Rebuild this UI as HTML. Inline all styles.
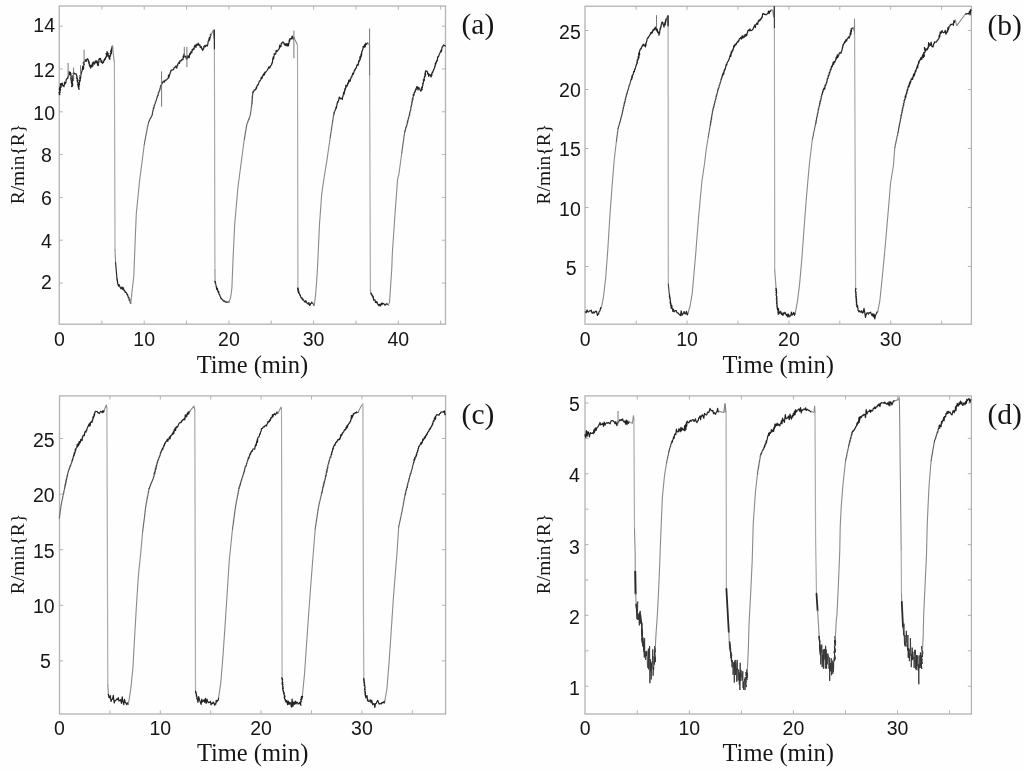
<!DOCTYPE html>
<html><head><meta charset="utf-8"><style>
html,body{margin:0;padding:0;background:#fefefe;}
svg{display:block;will-change:transform;}
.tk{font-family:"Liberation Sans",sans-serif;font-size:19.5px;fill:#161616;}
.xl{font-family:"Liberation Serif",serif;font-size:24.5px;fill:#161616;}
.yl{font-family:"Liberation Serif",serif;font-size:19.5px;fill:#161616;}
.pl{font-family:"Liberation Serif",serif;font-size:29.5px;fill:#161616;}
</style></head><body>
<svg width="1024" height="771" viewBox="0 0 1024 771">
<rect width="1024" height="771" fill="#fefefe"/>
<path d="M101.85 324.2v-3.6M101.85 6v3.6M144.20 324.2v-3.6M144.20 6v3.6M186.55 324.2v-3.6M186.55 6v3.6M228.90 324.2v-3.6M228.90 6v3.6M271.25 324.2v-3.6M271.25 6v3.6M313.60 324.2v-3.6M313.60 6v3.6M355.95 324.2v-3.6M355.95 6v3.6M398.30 324.2v-3.6M398.30 6v3.6M440.65 324.2v-3.6M440.65 6v3.6M59.25 283.00h3.6M445.5 283.00h-3.6M59.25 240.20h3.6M445.5 240.20h-3.6M59.25 197.40h3.6M445.5 197.40h-3.6M59.25 154.60h3.6M445.5 154.60h-3.6M59.25 111.80h3.6M445.5 111.80h-3.6M59.25 69.00h3.6M445.5 69.00h-3.6M59.25 26.20h3.6M445.5 26.20h-3.6" stroke="#b3b3b3" stroke-width="1" fill="none"/>
<rect x="59.25" y="6" width="386.25" height="318.20" fill="none" stroke="#b3b3b3" stroke-width="1.3"/>
<g fill="none" stroke-linejoin="round" stroke-linecap="round">
<polyline stroke="#222" stroke-width="1.2" points="59.2,94.5 59.8,94.7 59.0,92.3 60.1,92.6 59.3,88.8 60.4,90.6 59.6,87.0 60.7,89.7 59.9,88.8 61.0,87.2 60.2,84.2 61.3,87.0 60.5,84.0 61.1,83.6 61.7,85.0 62.2,83.0 62.8,86.0 63.4,85.9 64.0,86.7 64.6,82.1 65.2,83.8 65.8,82.8 66.1,80.6 66.4,79.0 66.7,79.2 66.9,78.7 67.2,78.2 67.5,77.7 67.8,78.3 68.1,76.6 68.6,76.4 69.1,71.5 69.5,74.4 70.0,72.7 70.5,72.7 71.0,74.3 70.3,72.3 71.1,75.3 70.5,74.5 71.3,76.7 70.7,78.0 71.5,78.3 70.8,78.6 71.7,81.6 71.0,79.8 71.8,82.3 71.2,82.1 72.0,84.1 71.4,82.5 72.2,85.7 71.5,86.5 72.0,86.7 72.5,85.1 71.8,85.2 72.7,85.0 72.0,82.2 72.8,85.1 72.2,81.8 73.0,80.4 72.4,79.6 73.2,80.5 72.6,77.7 73.4,78.9 72.8,76.1 73.6,77.2 72.9,75.9 73.8,74.3 73.1,73.1 73.6,72.7 74.2,73.5 74.8,73.3 75.5,74.0 76.1,73.8 76.7,75.8 77.2,77.1 76.6,77.7 77.5,80.0 76.8,77.2 77.7,79.8 77.1,80.7 78.0,80.3 77.3,81.4 78.2,83.8 77.6,84.6 78.5,86.2 77.8,84.8 78.7,86.8 78.1,86.5 78.6,88.2 79.1,89.4 78.5,85.5 79.3,86.1 78.7,84.6 79.6,84.6 79.0,82.4 79.8,82.0 79.2,81.0 80.1,81.0 79.5,80.4 80.3,80.4 79.7,77.7 80.6,78.7 80.0,75.7 80.8,77.4 80.6,75.0 80.9,75.0 81.3,73.4 81.6,72.0 81.9,71.6 82.2,70.0 82.6,67.3 82.9,69.6 83.5,69.1 82.7,66.1 83.8,67.9 83.0,67.9 84.0,65.1 83.2,62.9 84.3,64.5 83.5,62.5 84.1,61.8 84.8,61.7 85.5,59.7 86.2,61.3 86.9,59.2 87.6,58.7 87.9,59.1 88.1,59.6 88.4,61.7 88.6,60.3 88.9,63.4 89.2,62.0 89.4,65.6 89.7,64.5 89.9,66.4 90.2,65.3 90.4,67.7 90.7,68.0 91.1,66.1 91.6,65.0 92.0,66.9 92.5,62.8 92.9,66.0 93.4,61.8 93.8,63.3 94.6,64.0 95.3,60.8 96.1,62.9 96.9,61.0 97.5,62.5 96.9,60.6 97.9,65.1 97.3,64.8 98.3,65.5 98.1,65.7 98.6,65.2 98.0,63.2 98.9,62.8 98.3,62.6 99.1,61.4 98.6,59.8 99.4,59.5 99.2,58.7 99.8,59.4 100.5,58.3 101.2,62.4 101.8,60.6 102.4,63.4 103.1,62.6 103.5,62.4 104.0,59.8 104.4,60.5 104.9,58.4 105.3,59.3 105.8,56.9 106.2,57.1 106.7,56.5 106.1,53.5 107.0,54.3 106.4,54.4 107.2,52.6 107.0,51.7 107.3,52.2 107.5,53.0 107.8,56.0 108.1,53.1 108.3,56.2 108.6,55.5 108.9,56.5 109.1,58.3 109.4,59.1 110.0,58.9 109.4,57.0 110.3,56.6 109.8,55.7 110.7,55.2 110.2,53.5 111.1,53.1 110.6,51.0 111.5,53.6 111.0,50.0 111.9,51.1 111.4,48.8 112.3,48.8 111.8,46.8 112.7,48.2 112.5,46.2"/>
<polyline stroke="#8a8a8a" stroke-width="1.1" points="112.5,46.2 114.0,60.2 114.4,62.0"/>
<polyline stroke="#ababab" stroke-width="1.2" points="114.4,62.0 115.0,249.8"/>
<polyline stroke="#8a8a8a" stroke-width="1.1" points="115.0,249.8 115.6,262.7"/>
<polyline stroke="#2a2a2a" stroke-width="1.2" points="115.6,262.7 117.0,279.0"/>
<polyline stroke="#222" stroke-width="1.2" points="117.0,279.0 117.5,280.2 117.0,280.1 117.8,282.3 117.3,283.0 118.2,284.6 118.0,284.4 118.5,286.1 119.0,284.5 119.5,285.6 120.0,287.0 121.0,288.8 122.0,287.0 122.5,289.3 123.1,287.5 123.6,289.0 124.2,290.8 124.7,290.5 125.3,292.5 125.8,292.1 126.4,292.6 126.8,293.6 127.1,294.9 127.5,294.4 127.9,295.9 128.3,297.5 128.6,297.4 129.0,298.0"/>
<polyline stroke="#444" stroke-width="1.15" points="129.0,298.0 129.2,300.4 129.5,300.1 129.7,300.1 130.0,299.6 130.2,302.9 130.5,301.6 130.7,303.5"/>
<polyline stroke="#8a8a8a" stroke-width="1.1" points="130.7,303.5 132.3,289.0 133.8,276.3 134.5,258.0 135.2,240.0 136.3,213.5 139.5,181.4 141.7,164.6 144.3,144.3"/>
<polyline stroke="#666" stroke-width="1.1" points="144.3,144.3 144.5,143.6 144.5,142.7 144.8,141.7 144.8,140.6 145.1,140.5 145.1,139.4 145.4,138.8 145.4,137.8 145.7,137.1 145.7,136.0 146.0,135.7 146.0,134.5 146.3,133.8 146.3,133.2 146.6,132.5 146.6,131.5 146.8,130.8 147.1,129.9 147.0,128.8 147.4,128.2 147.4,127.0 147.8,126.8 147.7,125.4 148.1,125.2 148.1,124.0 148.4,123.9 148.5,122.4"/>
<polyline stroke="#444" stroke-width="1.15" points="148.5,122.4 148.9,121.4 149.3,121.0 149.6,120.3 150.0,119.1 150.4,118.4 150.8,117.5 151.1,117.6 151.5,116.1 151.9,115.6 152.3,115.1 152.1,113.7 152.6,114.0 152.5,112.2 153.0,111.1 152.9,110.4 153.4,109.6 153.3,107.8 153.8,108.7 153.7,108.1 154.2,107.3 154.0,105.5 154.4,105.5 154.7,104.6 154.9,104.2 155.2,103.6 155.4,102.1 155.7,101.9 156.0,100.5 156.2,100.8 156.5,99.2 156.8,98.9 157.0,96.9 157.3,97.5 157.5,95.5 157.8,95.4 158.1,95.6 158.3,92.8 158.6,93.4 158.8,91.9 159.1,91.1 159.3,91.3 159.6,91.2 159.8,88.5 160.1,89.2 160.3,87.5 160.6,85.8 160.8,85.8 161.1,85.3"/>
<polyline stroke="#222" stroke-width="1.2" points="161.1,85.3 161.5,85.0 162.0,83.5 162.4,82.9 162.8,81.9 163.3,82.1 163.7,81.1 164.4,82.1 165.1,80.0 165.8,80.3 166.5,80.0 167.2,79.0 167.9,78.5 168.2,77.9 168.5,75.1 168.8,77.9 169.1,75.7 169.4,75.9 169.8,73.9 170.1,73.7 170.4,72.1 170.7,71.9 171.0,70.2 171.3,70.1 172.0,70.2 172.7,69.8 173.4,69.7 174.2,67.6 174.9,67.7 175.6,66.1 176.3,66.7 176.8,68.1 177.2,65.2 177.7,65.4 178.2,63.2 178.6,63.0 179.1,62.1 179.6,63.5 180.0,60.5 180.5,60.8 181.3,60.8 182.0,59.3 182.8,59.7 183.0,59.6 183.2,56.1 183.4,57.8 183.7,55.2 183.9,57.2 184.1,53.8 184.3,54.3 184.7,56.2 185.1,56.6 185.5,56.9 185.9,56.2 186.3,58.9 186.7,58.9 187.2,58.7 187.6,55.9 188.1,57.6 188.6,55.8 189.2,57.6 189.7,53.7 190.3,54.4 190.8,51.8 191.4,52.7 191.8,52.8 192.2,49.4 192.5,50.0 192.9,50.1 193.3,48.6 193.7,48.4 194.1,49.2 194.4,46.1 194.8,46.8 195.2,44.9 196.0,47.3 196.8,44.1 197.6,45.0 198.3,43.1 199.1,45.5 199.9,44.9 200.3,47.6 200.7,46.7 201.1,47.0 201.4,46.7 201.8,49.0 202.2,49.3 202.6,50.4 202.9,50.0 203.3,48.4 203.6,48.9 203.9,46.4 204.3,47.0 204.6,45.7 205.4,46.5 206.1,45.0 206.9,45.7 207.2,46.0 207.5,45.2 207.8,44.5 208.1,42.0 208.4,40.9 208.7,40.8 209.0,39.1 209.3,37.6 209.6,40.1 209.9,38.0 210.2,37.6 210.5,34.2 210.8,35.6"/>
<polyline stroke="#8a8a8a" stroke-width="1.1" points="210.8,35.6 213.2,30.1 213.9,37.9 214.3,30.0"/>
<polyline stroke="#2a2a2a" stroke-width="1.2" points="214.3,30.0 214.4,49.6"/>
<polyline stroke="#ababab" stroke-width="1.2" points="214.4,49.6 214.9,270.0"/>
<polyline stroke="#8a8a8a" stroke-width="1.1" points="214.9,270.0 215.1,281.5"/>
<polyline stroke="#2a2a2a" stroke-width="1.5" points="215.1,281.5 215.4,283.0"/>
<polyline stroke="#444" stroke-width="1.15" points="215.4,283.0 215.9,284.1 215.6,284.0 216.3,286.5 216.3,286.6"/>
<polyline stroke="#222" stroke-width="1.2" points="216.3,286.6 216.6,289.3 216.9,287.8 217.2,288.8 217.4,288.4 217.7,290.8 218.0,291.2 218.3,292.4 218.7,291.4 219.0,294.2 219.3,294.4 219.7,294.9 220.2,296.5 220.6,297.0 221.1,298.9 221.6,298.6 222.0,299.1 222.5,299.6 223.5,301.1 224.5,300.9 225.4,302.0 226.4,302.2"/>
<polyline stroke="#444" stroke-width="1.15" points="226.4,302.2 227.3,302.4 228.1,301.6 229.0,302.2"/>
<polyline stroke="#8a8a8a" stroke-width="1.1" points="229.0,302.2 230.3,298.3 230.9,295.7 231.9,288.0 232.9,262.0 234.7,224.2 237.9,187.8 241.8,157.8 244.3,139.3"/>
<polyline stroke="#666" stroke-width="1.1" points="244.3,139.3 244.5,138.4 244.5,137.2 244.8,137.2 244.8,135.9 245.1,135.5 245.0,134.6 245.3,133.5 245.3,132.6 245.6,132.3 245.6,131.2 245.9,130.6 245.9,129.8 246.2,129.1 246.1,127.7 246.4,127.2 246.4,126.5 246.7,126.0 246.7,124.3 246.9,124.1 247.2,123.9 247.5,122.5 247.8,122.4 248.1,120.7 248.4,120.3 248.7,118.9 249.0,119.7 249.3,117.7 249.6,117.8 249.9,116.0 250.2,115.6 250.4,115.0 250.3,113.2 250.7,113.2 250.6,112.3 250.9,111.2 250.8,110.7 251.2,110.0 251.1,108.3 251.4,108.1 251.3,106.8 251.7,106.5 251.5,105.1 251.9,104.6 251.9,103.8"/>
<polyline stroke="#444" stroke-width="1.15" points="251.9,103.8 252.1,103.1 251.9,101.4 252.3,101.0 252.0,100.1 252.4,100.2 252.1,97.8 252.5,98.2 252.2,96.5 252.6,96.1 252.4,95.4 252.8,94.6 252.5,94.0 252.9,92.8 252.8,92.0"/>
<polyline stroke="#222" stroke-width="1.2" points="252.8,92.0 253.4,92.1 254.1,90.1 254.7,90.1 255.3,89.5 255.7,89.7 256.1,87.5 256.5,88.3 256.9,86.1 257.3,85.6 257.7,84.6 258.0,85.0 258.4,84.0 258.8,82.9 259.2,81.8 259.6,80.8 260.0,80.9 260.4,80.2 260.9,79.2 261.3,77.0 261.8,78.6 262.2,77.8 262.7,76.1 263.1,74.7 263.6,75.3 264.0,73.3 264.5,74.8 264.9,72.2 265.4,72.6 265.9,71.9 266.5,71.2 267.0,70.5 267.5,69.7 268.1,68.9 268.6,67.0 269.2,66.9 269.7,68.1 270.2,66.7 270.8,65.4 271.3,65.1 271.6,64.9 271.8,63.0 272.1,63.3 272.3,63.0 272.6,60.7 272.8,58.2 273.1,59.1 273.3,56.8 273.6,59.0 273.8,57.1 274.1,55.9 274.3,53.5 274.6,54.5 275.1,54.2 275.7,53.9 276.2,50.3 276.8,51.7 277.3,50.8 277.8,50.9 278.4,49.4 278.9,49.2 279.3,48.8 279.7,45.2 280.1,46.5 280.5,46.8 280.9,46.9 281.3,43.2 281.7,43.4 282.1,42.8 282.9,41.9 283.6,42.5 284.4,44.9 285.1,43.8 285.9,45.7 286.6,43.5 287.4,46.0 287.7,45.9 288.0,43.7 288.4,46.0 288.7,44.4 289.0,42.8 289.3,39.9 289.6,41.4 290.0,38.6 290.3,39.2 290.6,38.5 291.4,38.9 292.2,36.0 293.1,39.1 293.9,37.4"/>
<polyline stroke="#8a8a8a" stroke-width="1.1" points="293.9,37.4 297.1,43.9 297.5,45.0"/>
<polyline stroke="#ababab" stroke-width="1.2" points="297.5,45.0 297.9,288.5"/>
<polyline stroke="#2a2a2a" stroke-width="1.8" points="297.9,288.5 298.6,292.3"/>
<polyline stroke="#222" stroke-width="1.2" points="298.6,292.3 299.0,293.5 299.4,293.7 299.8,295.1 300.1,294.6 300.5,296.2 300.9,297.2 301.4,298.2 302.0,297.6 302.5,299.8 303.1,299.3 303.6,299.9 304.2,301.1 305.0,302.2 305.8,300.6 306.6,302.7 307.4,303.2 308.1,304.2 308.9,302.6 309.6,305.4 310.2,305.2 310.7,303.4 311.2,303.4 311.8,302.2"/>
<polyline stroke="#444" stroke-width="1.15" points="311.8,302.2 312.4,303.1 312.9,303.2 313.4,304.4 314.0,305.4"/>
<polyline stroke="#8a8a8a" stroke-width="1.1" points="314.0,305.4 314.5,304.0 315.6,294.5 316.7,280.9 317.6,266.0 319.5,224.2 321.7,194.2 323.8,179.3 326.8,161.2 330.2,137.6"/>
<polyline stroke="#666" stroke-width="1.1" points="330.2,137.6 330.4,136.9 330.3,135.6 330.7,135.4 330.6,133.8 330.9,133.8 330.8,132.6 331.2,132.1 331.1,130.7 331.4,130.6 331.3,128.8 331.7,129.0 331.5,127.7 331.9,127.3 331.8,126.1 332.2,125.4 332.0,124.3 332.4,124.1 332.3,122.9 332.6,122.4 332.5,120.6 332.9,120.9 332.8,119.8 333.1,119.4 333.0,117.9 333.4,117.0 333.3,116.5 333.5,115.6"/>
<polyline stroke="#444" stroke-width="1.15" points="333.5,115.6 333.8,115.0 334.0,112.4 334.3,113.6 334.5,111.2 334.8,111.1 335.1,109.9 335.3,110.7 335.6,108.4 335.8,108.5 336.1,107.2"/>
<polyline stroke="#222" stroke-width="1.2" points="336.1,107.2 336.4,108.2 336.6,106.3 336.9,105.3 337.1,103.4 337.4,102.9 337.7,101.5 337.9,102.6 338.2,100.8 338.5,100.8 338.7,99.7 339.0,98.6 339.2,97.3 339.5,97.1 340.3,98.9 341.2,98.2 342.0,98.8 342.3,99.6 342.6,97.0 342.8,96.8 343.1,95.4 343.4,94.6 343.7,92.0 344.0,94.4 344.2,91.9 344.5,92.6 344.8,88.8 345.1,90.4 345.4,88.2 345.6,88.4 345.9,85.2 346.2,87.0 346.6,86.6 346.9,85.8 347.3,85.8 347.7,83.0 348.0,84.0 348.4,82.8 348.8,80.1 349.1,80.5 349.5,81.6 349.8,79.8 350.2,81.2 350.6,78.8 350.9,78.5 351.3,76.9 351.7,77.0 352.1,75.5 352.4,74.7 352.8,73.2 353.2,74.5 353.6,73.4 354.0,71.9 354.4,70.1 354.7,70.7 355.1,69.8 355.5,68.4 355.9,68.3 356.3,67.7 356.7,66.0 357.1,64.8 357.5,65.3 357.9,64.2 358.3,65.0 358.7,60.8 359.1,62.0 359.3,61.0 359.6,60.1 359.8,59.7 360.0,56.6 360.2,59.8 360.5,57.1 360.7,57.7 360.9,54.6 361.1,56.7 361.4,53.2 361.6,55.2 361.8,51.0 362.0,51.6 362.3,50.6 362.5,50.2 362.7,49.5 362.9,49.6 363.2,46.3 363.4,47.1 364.0,47.3 364.6,44.7 365.2,47.0 365.8,43.2 366.4,44.3 367.0,44.0 367.6,42.8"/>
<polyline stroke="#8a8a8a" stroke-width="1.1" points="367.6,42.8 369.5,45.0"/>
<polyline stroke="#ababab" stroke-width="1.2" points="369.5,45.0 370.4,290.7"/>
<polyline stroke="#8a8a8a" stroke-width="1.1" points="370.4,290.7 371.0,293.4"/>
<polyline stroke="#2a2a2a" stroke-width="1.6" points="371.0,293.4 373.2,297.2"/>
<polyline stroke="#222" stroke-width="1.2" points="373.2,297.2 373.6,300.1 374.1,299.7 374.5,299.9 375.0,299.8 375.4,302.5 375.9,301.6 376.4,302.7 377.0,301.7 377.6,304.2 378.1,304.3 378.8,305.7 379.6,304.3 380.3,306.0 380.8,304.6 381.4,303.0 381.9,304.9 382.4,303.2 383.1,303.7 383.9,303.7 384.6,304.9 385.3,305.2 386.1,304.1 386.8,303.8"/>
<polyline stroke="#444" stroke-width="1.15" points="386.8,303.8 387.6,304.5 388.4,304.9"/>
<polyline stroke="#8a8a8a" stroke-width="1.1" points="388.4,304.9 389.5,302.2 390.6,286.3 391.7,270.0 392.4,252.0 395.5,207.1 397.6,179.3 398.9,174.2 401.8,152.8"/>
<polyline stroke="#666" stroke-width="1.1" points="401.8,152.8 402.0,152.2 401.9,150.8 402.2,150.4 402.2,149.1 402.4,149.1 402.4,147.7 402.7,147.0 402.6,146.0 402.9,145.5 402.8,144.6 403.1,143.5 403.0,142.5 403.3,142.2 403.3,141.7 403.6,140.8 403.5,139.5 403.8,139.1 403.7,138.3 404.0,137.3 403.9,136.1 404.2,135.9 404.2,134.7 404.5,134.2 404.4,132.8 404.7,132.8 404.7,131.4"/>
<polyline stroke="#444" stroke-width="1.15" points="404.7,131.4 405.0,131.4 405.3,129.7 405.6,129.4 405.8,127.2 406.1,127.7 406.4,126.1 406.7,125.6 407.0,125.2 406.9,124.0 407.4,123.4 407.3,121.6 407.8,122.1 407.7,120.4 408.2,120.3 408.1,118.9 408.6,118.7 408.6,117.8 409.0,116.3 408.8,116.5 409.4,115.8 409.2,114.9 409.8,115.0 409.6,112.9 410.2,111.9 410.0,110.9 410.6,110.6 410.6,110.0 411.0,109.3 410.7,108.0 411.3,106.8 411.0,106.5 411.6,105.4 411.3,104.9 411.9,104.6 411.6,102.9 412.2,103.0 411.9,101.1 412.5,101.1 412.2,98.8 412.8,99.8 412.5,99.3 413.1,99.4 412.8,97.3 413.4,97.0 413.1,94.5 413.5,94.5"/>
<polyline stroke="#222" stroke-width="1.2" points="413.5,94.5 413.9,95.5 414.3,92.3 414.7,92.7 415.1,90.6 415.4,91.2 415.8,88.9 416.2,89.5 416.6,86.8 417.0,87.7 417.4,86.7 418.0,90.0 418.7,87.3 419.4,89.0 420.0,89.2 420.6,91.2 421.3,90.6 421.9,89.4 421.3,88.3 422.2,89.7 421.7,87.1 422.6,87.4 422.1,86.7 423.0,85.1 422.5,83.8 423.4,83.7 422.9,83.5 423.8,80.9 423.2,80.0 424.2,80.6 423.6,79.7 424.5,80.0 424.0,78.8 424.9,76.5 424.4,76.6 425.3,76.1 424.8,73.8 425.7,75.3 425.2,72.0 426.1,71.4 425.5,70.9 426.1,71.1 426.6,71.0 427.2,71.2 427.7,74.0 428.3,73.4 428.8,76.4 429.4,74.3 429.9,74.9 430.5,75.1 431.0,77.0 431.3,76.0 431.5,73.8 431.8,75.7 432.1,72.8 432.4,72.0 432.6,72.5 432.9,72.2 433.2,70.6 433.4,70.8 433.7,69.4 434.0,69.3 434.3,68.4 434.5,68.1 434.8,66.1 435.1,66.6 435.4,62.9 435.6,64.5 435.9,63.3 436.2,62.9 436.5,61.3 436.8,60.4 437.1,61.1 437.4,60.1 437.6,57.0 437.9,57.0 438.2,56.3 438.5,56.9 438.8,55.6 439.1,54.8 439.5,53.6 439.8,53.3 440.2,52.4 440.5,51.7 440.9,50.4 441.2,51.7 441.5,51.2 441.9,48.4 442.2,46.9 442.6,47.0 442.9,46.5 443.3,45.2 443.6,44.9 444.5,45.6 445.3,46.0"/>
<line stroke="#777" stroke-width="1" x1="84.1" y1="50.1" x2="84.1" y2="64"/>
<line stroke="#777" stroke-width="1" x1="68.1" y1="63.3" x2="68.1" y2="77"/>
<line stroke="#777" stroke-width="1" x1="73.6" y1="68" x2="73.6" y2="80"/>
<line stroke="#777" stroke-width="1" x1="80.6" y1="65.7" x2="80.6" y2="76"/>
<line stroke="#777" stroke-width="1" x1="161.6" y1="71.8" x2="161.6" y2="106.4"/>
<line stroke="#777" stroke-width="1" x1="186.9" y1="47.3" x2="186.9" y2="66.7"/>
<line stroke="#777" stroke-width="1" x1="184.3" y1="47.3" x2="184.3" y2="56"/>
<line stroke="#777" stroke-width="1" x1="293.9" y1="31" x2="293.9" y2="57.8"/>
<line stroke="#777" stroke-width="1" x1="369.6" y1="28.9" x2="369.6" y2="74.9"/>
</g>
<text class="tk" x="59.50" y="345.8" text-anchor="middle">0</text>
<text class="tk" x="144.20" y="345.8" text-anchor="middle">10</text>
<text class="tk" x="228.90" y="345.8" text-anchor="middle">20</text>
<text class="tk" x="313.60" y="345.8" text-anchor="middle">30</text>
<text class="tk" x="398.30" y="345.8" text-anchor="middle">40</text>
<text class="tk" x="33.30" y="31.5">14</text>
<text class="tk" x="33.30" y="76.6">12</text>
<text class="tk" x="33.30" y="120.3">10</text>
<text class="tk" x="40.90" y="162.4">8</text>
<text class="tk" x="40.90" y="204.6">6</text>
<text class="tk" x="40.90" y="248.2">4</text>
<text class="tk" x="40.90" y="289.1">2</text>
<text class="xl" x="252.4" y="372.6" text-anchor="middle">Time (min)</text>
<text class="yl" transform="translate(24.0,164.1) rotate(-90)" text-anchor="middle">R/min{R}</text>
<text class="pl" x="461.5" y="34.2">(a)</text>
<path d="M636.20 324.2v-3.6M636.20 6.25v3.6M687.10 324.2v-3.6M687.10 6.25v3.6M738.00 324.2v-3.6M738.00 6.25v3.6M788.90 324.2v-3.6M788.90 6.25v3.6M839.80 324.2v-3.6M839.80 6.25v3.6M890.70 324.2v-3.6M890.70 6.25v3.6M941.60 324.2v-3.6M941.60 6.25v3.6M585.0 266.50h3.6M971.4 266.50h-3.6M585.0 207.50h3.6M971.4 207.50h-3.6M585.0 148.50h3.6M971.4 148.50h-3.6M585.0 89.50h3.6M971.4 89.50h-3.6M585.0 30.50h3.6M971.4 30.50h-3.6" stroke="#b3b3b3" stroke-width="1" fill="none"/>
<rect x="585.0" y="6.25" width="386.40" height="317.95" fill="none" stroke="#b3b3b3" stroke-width="1.3"/>
<g fill="none" stroke-linejoin="round" stroke-linecap="round">
<polyline stroke="#222" stroke-width="1.2" points="585.3,311.9 586.2,312.7 587.1,309.9 588.0,312.0 588.8,311.8 589.6,310.9 590.4,310.8 591.2,310.1 592.0,313.0 592.8,313.1 593.5,311.8 594.2,312.9 595.0,312.0 595.8,311.1 596.6,311.6 597.4,315.4 598.2,314.0 598.6,314.2 599.0,311.8 599.4,311.4 599.8,310.8 600.2,310.1 600.6,307.7 601.0,308.3 601.4,307.6"/>
<polyline stroke="#8a8a8a" stroke-width="1.1" points="601.4,307.6 603.5,296.9 605.7,277.6 607.8,249.8 609.9,215.6 612.1,185.7 614.2,160.0 616.4,141.2"/>
<polyline stroke="#666" stroke-width="1.1" points="616.4,141.2 616.6,141.0 616.5,139.5 616.8,139.3 616.7,137.6 617.1,137.7 616.9,136.0 617.3,135.7 617.1,135.3 617.5,134.4 617.3,132.8 617.7,132.5 617.6,131.4 617.9,131.3 617.8,129.6 618.1,128.8 618.1,128.3"/>
<polyline stroke="#444" stroke-width="1.15" points="618.1,128.3 618.3,127.6 618.6,126.5 618.8,126.2 619.0,125.3 619.2,124.7 619.5,123.6 619.7,122.5 619.9,122.0 620.1,122.1 620.4,120.3 620.6,119.8 620.8,118.5 621.0,118.8 621.2,116.5 621.5,116.5 621.7,115.5 622.0,115.1 621.9,113.9 622.4,113.2 622.3,112.2 622.7,111.6 622.6,110.5 623.1,110.1 623.0,108.4 623.5,108.5 623.3,107.6 623.8,106.6 623.7,105.6 624.2,105.6 624.1,103.6 624.5,103.8 624.4,102.1 624.9,102.6 624.8,101.7 625.3,101.3 625.1,99.2 625.6,99.2 625.5,97.7 626.0,97.4 626.0,96.3 626.2,96.6 626.5,93.8 626.7,94.8 627.0,92.8 627.2,93.4 627.4,91.4 627.7,90.8 627.9,89.9 628.2,89.9 628.4,88.2 628.6,88.3 628.9,86.3 629.1,85.4 629.4,85.5 629.6,85.2 629.9,83.5 630.1,83.4 630.3,82.4 630.6,81.5 630.8,80.0 631.1,80.1 631.3,79.1"/>
<polyline stroke="#222" stroke-width="1.2" points="631.3,79.1 631.6,79.6 631.9,76.1 632.2,78.0 632.4,75.1 632.7,74.9 633.0,74.8 633.3,74.0 633.6,71.5 633.9,72.2 634.1,71.4 634.4,71.7 634.7,69.0 635.0,69.6 635.3,68.2 635.6,67.4 635.8,66.3 636.1,66.2 636.4,64.2 636.7,64.2 637.2,63.5 636.8,62.2 637.5,62.4 637.1,60.1 637.9,60.4 637.5,59.8 638.3,59.3 637.9,58.1 638.6,58.5 638.2,56.3 639.0,57.7 638.6,53.6 639.4,55.1 639.0,52.4 639.8,54.3 639.3,52.4 640.1,49.8 640.0,50.0 640.4,49.0 640.8,48.5 641.2,48.9 641.6,47.1 642.0,46.8 642.4,45.4 642.8,45.8 643.2,44.1 643.7,45.2 644.2,45.7 644.7,44.9 645.2,46.7 645.4,46.9 645.7,43.6 645.9,45.6 646.1,42.7 646.4,42.4 646.6,41.5 646.9,40.7 647.1,38.8 647.3,38.5 647.6,37.9 647.8,37.6 648.3,37.9 648.8,36.5 649.3,35.9 649.8,35.0 650.2,34.6 650.7,32.6 651.2,33.6 651.7,31.8 652.3,32.8 652.9,29.8 653.5,30.5 654.1,28.8 654.7,29.7 655.3,27.0 655.9,27.9 656.3,30.2 656.6,28.4 657.0,31.1 657.3,29.5 657.7,32.4 658.1,32.0 658.4,33.2 658.8,33.7 659.0,35.3 659.3,31.9 659.5,33.6 659.8,30.8 660.0,29.8 660.2,28.1 660.5,29.2 660.7,26.9 661.0,27.3 661.2,25.0 661.4,24.1 661.7,23.5 661.9,22.2 662.2,22.5 662.4,22.0 662.7,22.8 662.9,22.5 663.2,25.0 663.5,25.1 663.7,25.6 664.0,27.2 664.2,25.5 664.5,24.1 664.7,23.6 664.9,22.6 665.2,25.0 665.4,20.9 665.7,22.6 665.9,19.0 666.1,20.6 666.4,18.2 666.6,18.2"/>
<polyline stroke="#8a8a8a" stroke-width="1.1" points="666.6,18.2 667.6,15.6 668.0,16.0"/>
<polyline stroke="#2a2a2a" stroke-width="1.6" points="668.0,16.0 668.1,26.0"/>
<polyline stroke="#ababab" stroke-width="1.2" points="668.1,26.0 668.3,284.1"/>
<polyline stroke="#444" stroke-width="1.15" points="668.3,284.1 668.5,285.2 668.3,285.7 668.7,287.5 668.5,287.2 668.9,288.5 668.7,288.4 669.0,290.3 668.8,290.3 669.2,292.1 669.0,292.1 669.4,294.1 669.2,293.0 669.4,294.8"/>
<polyline stroke="#222" stroke-width="1.2" points="669.4,294.8 669.8,295.9 669.3,296.6 670.1,297.5 669.5,296.9 670.3,299.2 669.8,298.1 670.5,301.2 670.0,302.8 670.8,303.7 670.2,301.6 671.0,303.7 670.5,303.8 670.9,305.5 671.3,308.4 671.7,305.2 672.1,307.9 672.5,309.0 672.9,311.5 673.3,309.0 673.7,310.5 674.1,311.9 674.8,311.0 675.5,310.5 676.2,310.5 677.0,312.7 677.7,312.9 678.4,313.0 679.1,314.5 679.8,314.7 680.5,315.5 681.2,310.9 682.0,315.3 682.7,314.0 683.4,313.4 684.1,311.5 684.8,313.6 685.6,313.9 686.4,311.4 687.2,314.9 688.0,313.0"/>
<polyline stroke="#8a8a8a" stroke-width="1.1" points="688.0,313.0 690.2,305.5 692.3,292.6 695.5,256.3 698.7,215.6 701.9,181.4 704.6,163.0 706.2,149.7 708.3,136.9"/>
<polyline stroke="#666" stroke-width="1.1" points="708.3,136.9 708.5,135.7 708.5,134.8 708.8,134.6 708.7,133.5 709.1,133.2 709.0,132.0 709.3,131.5 709.3,130.7 709.6,129.4 709.5,128.8 709.9,128.2 709.8,127.2 710.1,126.8 710.1,125.4 710.3,125.0"/>
<polyline stroke="#444" stroke-width="1.15" points="710.3,125.0 710.6,124.2 710.4,123.4 710.8,122.9 710.7,121.3 711.1,121.9 711.0,120.7 711.4,119.0 711.2,118.4 711.7,118.8 711.5,116.9 711.9,116.4 711.8,115.0 712.2,114.5 712.1,113.3 712.5,112.9 712.3,112.0 712.6,111.2 713.0,110.5 712.8,109.2 713.4,108.6 713.2,107.8 713.7,107.2 713.6,106.2 714.1,106.5 714.0,104.9 714.5,104.7 714.4,103.3 714.9,102.9 714.8,101.5 715.3,101.2 715.2,100.4 715.7,99.4 715.6,99.0 716.1,98.3 716.0,96.6 716.5,96.5 716.3,95.1 716.9,95.2 716.9,94.1 717.1,93.3 717.4,92.8 717.6,91.7 717.8,89.4 718.0,90.1 718.3,88.0 718.5,88.9 718.7,88.0 718.9,87.7 719.2,85.2 719.4,85.4 719.6,85.2 719.8,84.4 720.1,82.7 720.3,83.2 720.5,82.4 720.7,81.7 721.0,79.6 721.2,79.1"/>
<polyline stroke="#222" stroke-width="1.2" points="721.2,79.1 721.5,79.0 721.8,77.5 722.1,76.8 722.4,74.8 722.7,75.7 722.9,73.3 723.2,74.1 723.5,72.5 723.8,74.1 724.1,70.3 724.4,70.9 724.7,69.2 725.0,69.7 725.3,68.5 725.6,67.6 725.9,65.7 726.1,65.2 726.4,64.0 726.7,65.1 727.0,63.1 727.3,62.5 727.6,62.0 728.2,61.2 728.7,59.9 729.0,59.7 729.3,58.3 729.6,57.7 729.9,56.2 730.3,55.3 730.6,54.0 730.9,56.3 731.2,51.7 731.5,53.4 731.8,52.0 732.1,51.8 732.4,49.8 732.8,50.6 733.1,48.9 733.4,49.0 733.7,45.9 734.0,47.1 734.5,46.8 734.9,44.4 735.4,45.0 735.8,43.9 736.2,44.6 736.7,43.0 737.1,42.2 737.6,41.6 738.0,42.2 738.5,40.3 738.9,40.9 739.4,38.5 740.1,38.7 740.8,37.3 741.5,39.1 742.2,35.7 743.0,38.1 743.7,36.0 744.4,37.1 745.1,34.4 745.8,36.3 746.1,35.3 746.4,34.1 746.8,35.3 747.1,33.4 747.4,32.9 747.8,30.8 748.1,30.6 748.4,30.0 749.2,30.8 749.9,28.9 750.7,30.7 751.5,30.4 752.2,29.9 753.0,29.2 753.5,27.8 753.9,26.5 754.4,26.5 754.8,24.9 755.3,27.7 755.7,24.9 756.2,24.6 756.7,23.2 757.2,23.3 757.7,24.4 758.2,21.1 758.6,21.4 759.1,19.9 759.6,21.0 760.1,19.5 760.5,19.9 760.9,18.5 761.3,18.9 761.7,17.0 762.1,17.6 762.5,15.0 762.9,13.5 763.3,13.5 764.2,14.4 765.0,14.1 765.9,14.9 766.5,14.5 767.2,13.9 767.9,13.3 768.5,11.0 769.1,13.7 769.8,11.2 770.5,11.4 771.1,10.0"/>
<polyline stroke="#8a8a8a" stroke-width="1.1" points="771.1,10.0 772.5,10.0 773.7,16.9 774.3,6.5"/>
<polyline stroke="#2a2a2a" stroke-width="1.1" points="774.3,6.5 774.4,28.5"/>
<polyline stroke="#ababab" stroke-width="1.2" points="774.4,28.5 774.7,270.0"/>
<polyline stroke="#8a8a8a" stroke-width="1.1" points="774.7,270.0 776.1,288.3"/>
<polyline stroke="#222" stroke-width="1.2" points="776.1,288.3 776.5,290.4 775.9,290.2 776.6,291.5 775.9,288.9 776.6,292.3 776.0,292.2 776.7,293.7 776.1,294.3 776.8,297.1 776.2,295.4 776.9,296.8 776.3,299.1 777.0,298.9 776.4,298.0 777.1,301.1 776.4,301.0 777.1,301.9 776.5,302.9 777.2,303.7 776.6,303.1 777.3,305.9 776.7,306.1 777.4,306.8 777.1,307.6 777.5,309.6 777.8,308.1 778.2,314.2 778.6,308.7 778.9,313.8 779.3,311.9 780.0,312.9 780.7,311.4 781.4,314.4 782.1,313.1 782.9,315.5 783.6,312.9 784.3,313.6 785.0,312.2 785.7,314.0 786.4,315.6 787.1,314.1 787.8,317.0 788.5,314.2 789.3,316.8 790.0,315.8 790.7,315.9 791.4,312.2 792.1,315.1 792.9,314.2 793.7,312.3 794.5,315.4 795.3,313.0"/>
<polyline stroke="#8a8a8a" stroke-width="1.1" points="795.3,313.0 797.5,301.2 799.6,284.1 801.7,260.5 803.9,230.6 806.0,202.8 808.2,177.1 809.5,163.0 812.4,139.0"/>
<polyline stroke="#666" stroke-width="1.1" points="812.4,139.0 812.7,138.2 812.6,137.6 813.0,137.0 813.0,136.2 813.4,135.6 813.3,134.0 813.7,133.6 813.6,132.5 814.0,132.1 814.0,130.7 814.4,130.5 814.3,129.8 814.7,128.4 814.6,127.8 815.0,127.1 815.0,126.2 815.4,126.0 815.3,124.6 815.6,124.0"/>
<polyline stroke="#444" stroke-width="1.15" points="815.6,124.0 815.9,123.7 815.8,121.5 816.2,122.2 816.1,120.3 816.5,120.4 816.4,119.0 816.9,117.6 816.7,117.0 817.2,117.0 817.0,116.2 817.5,115.5 817.3,114.1 817.8,113.2 817.6,113.0 818.1,112.8 818.0,110.8 818.4,110.4 818.3,108.6 818.7,109.2 818.6,108.6 818.9,107.0 819.3,106.9 819.1,105.7 819.7,105.2 819.5,103.0 820.1,103.9 819.9,101.2 820.5,101.6 820.3,100.4 820.9,100.5 820.7,98.8 821.3,98.6 821.1,96.6 821.7,96.2 821.5,95.4 822.1,94.9 822.1,94.1"/>
<polyline stroke="#222" stroke-width="1.2" points="822.1,94.1 822.4,92.9 822.7,91.3 823.0,91.9 823.3,89.3 823.6,89.8 823.9,88.0 824.2,89.3 824.5,87.8 824.8,89.0 825.1,85.0 825.4,85.7 825.7,85.1 826.0,84.5 826.3,83.4 826.5,82.8 826.8,82.5 827.0,81.2 827.3,78.7 827.5,78.8 827.8,78.2 828.0,78.4 828.3,75.3 828.5,75.8 828.8,75.1 829.0,75.3 829.3,72.5 829.5,72.7 829.8,72.9 830.1,71.1 830.4,69.5 830.7,68.9 831.0,69.6 831.3,67.1 831.6,66.2 831.9,65.8 832.2,66.8 832.5,65.7 832.8,64.2 833.2,62.2 833.7,64.4 834.1,61.7 834.5,61.6 834.9,62.2 835.4,60.2 835.8,59.9 836.2,57.0 836.6,58.8 837.1,55.9 837.5,54.8 837.9,57.4 838.3,56.1 838.8,55.2 839.2,53.5 839.8,52.6 840.3,52.8 840.9,53.3 841.4,51.4 842.0,50.0 842.2,49.7 842.5,47.1 842.7,48.0 842.9,44.8 843.2,45.4 843.4,44.9 843.7,44.3 843.9,43.2 844.1,43.5 844.4,43.2 844.6,41.5 845.2,42.3 845.9,39.7 846.6,41.0 847.2,38.9 847.9,38.2 848.5,36.8 849.1,38.1 849.8,36.3 850.3,35.1 849.9,34.0 850.7,33.5 850.3,32.8 851.1,34.1 850.7,30.6 851.5,31.5 851.1,28.9 851.9,28.9 851.8,28.5 853.1,27.9"/>
<polyline stroke="#8a8a8a" stroke-width="1.1" points="853.1,27.9 854.4,31.8 854.5,19.1 854.6,35.0"/>
<polyline stroke="#ababab" stroke-width="1.2" points="854.6,35.0 855.6,288.3"/>
<polyline stroke="#222" stroke-width="1.2" points="855.6,288.3 856.0,288.7 855.4,290.6 856.1,293.3 855.5,291.5 856.2,292.4 855.6,293.3 856.3,294.4 855.7,295.0 856.4,296.5 855.8,296.3 856.5,298.5 855.9,297.2 856.6,299.3 856.0,297.9 856.7,300.9 856.1,299.8 856.8,302.8 856.2,301.9 856.9,304.7 856.3,304.7 857.0,305.1 856.7,306.5 857.2,307.0 857.6,305.9 858.1,310.5 858.6,310.7 859.0,312.0 859.5,310.8 860.3,311.5 861.0,312.4 861.8,310.7 862.5,313.1 863.3,312.4 864.0,308.3 864.8,313.0 865.5,317.3 866.2,314.4 867.0,312.9 867.7,312.8 868.4,314.1 869.1,312.9 869.9,312.7 870.6,312.2 871.3,314.0 872.0,315.6 872.7,313.8 873.4,316.9 874.1,314.0 874.8,318.8 875.5,315.1 876.0,314.3 876.6,313.2 877.2,311.7 877.7,311.9"/>
<polyline stroke="#8a8a8a" stroke-width="1.1" points="877.7,311.9 879.8,301.2 882.0,279.8 884.1,258.4 886.2,234.9 888.4,209.2 890.5,183.5 893.5,165.0 894.8,147.6"/>
<polyline stroke="#666" stroke-width="1.1" points="894.8,147.6 895.1,146.6 895.0,146.2 895.4,145.1 895.4,144.4 895.8,143.8 895.7,142.3 896.1,142.2 896.0,140.9 896.4,140.5 896.4,139.7 896.8,139.3 896.7,137.8 897.1,137.3 897.0,136.4 897.4,135.9 897.4,135.1 897.8,135.2 897.7,133.4 898.0,132.6"/>
<polyline stroke="#444" stroke-width="1.15" points="898.0,132.6 898.3,132.0 898.2,130.7 898.6,130.1 898.5,128.8 898.9,128.4 898.8,127.3 899.2,127.0 899.1,126.1 899.5,125.4 899.4,124.1 899.8,123.4 899.7,123.2 900.1,122.5 900.0,121.6 900.4,120.9 900.3,119.9 900.7,118.9 900.6,118.0 901.0,118.4 900.9,115.6 901.2,115.5 901.6,115.6 901.3,114.4 901.9,113.7 901.7,112.4 902.2,112.5 902.0,110.1 902.6,110.5 902.4,108.4 902.9,108.4 902.7,107.0 903.2,107.1 903.0,105.8 903.6,105.8 903.4,103.4 903.9,105.0 903.7,103.1 904.3,102.8 904.0,100.8 904.4,100.5"/>
<polyline stroke="#222" stroke-width="1.2" points="904.4,100.5 904.6,100.1 904.9,98.9 905.1,98.9 905.3,95.8 905.5,97.5 905.8,97.4 906.0,94.2 906.2,94.5 906.4,94.1 906.7,92.1 906.9,93.3 907.1,89.8 907.3,90.9 907.6,90.1 907.8,89.1 908.0,87.2 908.2,87.7 908.5,85.6 908.7,85.6 909.1,86.6 909.4,83.0 909.8,84.6 910.1,81.3 910.5,83.0 910.9,80.7 911.2,79.1 911.6,79.4 911.9,78.8 912.3,77.6 912.6,79.4 913.0,77.0 913.3,75.8 913.6,74.0 913.9,76.5 914.2,73.5 914.6,75.1 914.9,72.2 915.2,71.5 915.5,70.4 915.8,71.8 916.1,69.7 916.4,69.3 916.7,67.5 917.1,67.7 917.4,65.4 917.7,67.9 918.0,64.4 918.3,64.2 918.5,62.9 918.8,61.3 919.0,63.1 919.3,60.8 919.5,60.0 920.3,60.2 921.0,57.3 921.8,59.5 922.5,54.9 923.3,57.6 923.9,55.7 923.1,56.1 924.2,55.3 923.4,53.8 924.5,56.2 923.7,52.5 924.8,52.6 924.0,53.0 925.1,51.9 924.3,47.5 924.9,48.2 925.7,50.9 926.4,48.9 927.2,49.8 927.5,48.7 927.9,47.4 928.2,48.2 928.6,42.7 928.9,46.7 929.3,43.7 929.6,44.4 930.4,45.3 931.2,42.0 931.9,46.6 932.7,46.7 933.1,46.9 933.5,44.3 933.9,43.6 934.2,43.5 934.6,41.9 935.0,42.0 935.8,42.1 936.5,41.9 937.3,40.2 938.1,39.7 938.4,39.1 938.7,38.8 939.0,37.8 939.3,35.1 939.6,37.2 939.9,35.7 940.2,31.9 940.5,33.5 941.3,33.0 942.0,30.5 942.8,32.2 943.6,32.7 944.4,32.4 945.2,30.4 945.9,34.2 946.7,32.7 947.0,31.6 947.3,30.3 947.6,32.0 947.9,27.5 948.1,30.0 948.4,29.6 948.7,28.8 949.0,26.5 949.8,26.0 950.6,24.4 951.3,24.7 952.1,24.0 952.9,24.1 953.4,25.4 953.9,20.6 954.3,22.4 954.8,21.6 955.3,20.2"/>
<polyline stroke="#8a8a8a" stroke-width="1.1" points="955.3,20.2 956.8,25.7 965.4,14.0 965.6,14.0"/>
<polyline stroke="#222" stroke-width="1.2" points="965.6,14.0 966.3,14.2 967.0,13.5 967.8,13.6 968.5,14.0 969.0,13.0 969.6,11.1 970.1,14.9 970.7,9.7 971.2,10.1"/>
<line stroke="#777" stroke-width="1" x1="656.5" y1="15.6" x2="656.5" y2="27.9"/>
</g>
<text class="tk" x="585.30" y="345.8" text-anchor="middle">0</text>
<text class="tk" x="687.10" y="345.8" text-anchor="middle">10</text>
<text class="tk" x="788.90" y="345.8" text-anchor="middle">20</text>
<text class="tk" x="890.70" y="345.8" text-anchor="middle">30</text>
<text class="tk" x="559.10" y="38.5">25</text>
<text class="tk" x="559.10" y="97.3">20</text>
<text class="tk" x="559.10" y="156.3">15</text>
<text class="tk" x="559.10" y="215.5">10</text>
<text class="tk" x="565.75" y="274.6">5</text>
<text class="xl" x="778.2" y="372.6" text-anchor="middle">Time (min)</text>
<text class="yl" transform="translate(549.7,164.2) rotate(-90)" text-anchor="middle">R/min{R}</text>
<text class="pl" x="987.4" y="34.5">(b)</text>
<path d="M109.90 714v-3.6M109.90 395.9v3.6M160.30 714v-3.6M160.30 395.9v3.6M210.70 714v-3.6M210.70 395.9v3.6M261.10 714v-3.6M261.10 395.9v3.6M311.50 714v-3.6M311.50 395.9v3.6M361.90 714v-3.6M361.90 395.9v3.6M412.30 714v-3.6M412.30 395.9v3.6M59.5 660.90h3.6M445.6 660.90h-3.6M59.5 605.30h3.6M445.6 605.30h-3.6M59.5 549.70h3.6M445.6 549.70h-3.6M59.5 494.10h3.6M445.6 494.10h-3.6M59.5 438.50h3.6M445.6 438.50h-3.6" stroke="#b3b3b3" stroke-width="1" fill="none"/>
<rect x="59.5" y="395.9" width="386.10" height="318.10" fill="none" stroke="#b3b3b3" stroke-width="1.3"/>
<g fill="none" stroke-linejoin="round" stroke-linecap="round">
<polyline stroke="#666" stroke-width="1.1" points="59.3,518.3 59.5,517.5 59.4,516.4 59.7,515.9 59.7,515.0 60.0,514.4 59.9,513.6 60.2,512.7 60.1,511.9 60.4,511.1 60.4,510.0 60.7,509.0 60.6,508.2 60.9,507.7 60.8,506.5 61.1,505.5 61.1,505.1 61.4,504.3 61.4,503.4 61.7,502.7 61.6,501.5 62.0,501.2 62.0,500.2 62.4,499.3 62.3,498.2 62.7,498.2 62.6,496.9 63.0,496.4 63.0,495.1 63.4,494.7 63.3,493.7 63.7,493.7 63.6,491.8 64.0,492.2 64.0,490.8 64.4,490.0 64.3,489.2 64.6,488.4"/>
<polyline stroke="#444" stroke-width="1.15" points="64.6,488.4 64.9,487.3 64.8,485.8 65.3,485.8 65.1,484.8 65.6,484.6 65.4,483.2 65.9,483.2 65.8,480.9 66.3,481.8 66.1,479.6 66.6,479.7 66.5,478.5 67.0,477.9 66.8,476.5 67.3,476.4 67.1,475.5 67.6,475.5 67.5,474.1 67.8,473.4 68.1,472.4 68.3,471.0 68.6,470.9 68.9,470.1 69.1,468.7 69.4,468.9 69.7,467.9 69.9,466.2 70.2,466.7 70.5,465.6 70.8,465.1 71.0,464.0 71.3,463.4 71.6,462.5 71.8,462.4 72.1,460.6"/>
<polyline stroke="#222" stroke-width="1.2" points="72.1,460.6 72.4,460.2 72.6,459.5 72.9,458.8 73.2,457.0 73.4,456.4 73.7,455.2 74.0,456.0 74.2,452.9 74.5,454.3 74.8,452.4 75.1,452.4 75.3,449.1 75.6,450.6 75.9,449.4 76.1,448.5 76.4,447.8 76.8,447.7 77.3,444.1 77.7,446.7 78.2,443.9 78.6,445.4 79.1,441.6 79.5,443.8 79.9,441.4 80.4,442.5 80.8,439.4 81.3,440.0 81.7,439.2 82.1,440.6 82.5,436.5 82.9,436.9 83.2,435.4 83.6,435.1 84.0,435.0 84.4,435.6 84.8,432.1 85.2,431.5 85.6,431.9 85.9,432.1 86.3,430.1 86.7,430.6 87.1,428.5 87.5,427.6 88.0,426.4 88.4,425.8 88.9,424.1 89.3,426.2 89.8,423.2 90.2,425.7 90.6,422.3 91.1,422.1 91.5,421.4 92.0,422.5 92.4,419.9 92.7,420.1 93.0,416.8 93.3,418.4 93.6,417.4 93.9,416.2 94.1,414.1 94.4,415.9 94.7,413.3 95.0,412.6 95.3,411.3 95.6,411.4 96.3,411.5 97.0,411.4 97.8,412.6 98.5,412.6 99.2,413.6 99.9,412.5 100.6,411.3 101.3,411.5 102.1,412.8 102.8,410.8 103.5,412.2 104.2,410.3"/>
<polyline stroke="#8a8a8a" stroke-width="1.1" points="104.2,410.3 106.3,405.0 106.9,408.0"/>
<polyline stroke="#ababab" stroke-width="1.2" points="106.9,408.0 107.8,685.0"/>
<polyline stroke="#8a8a8a" stroke-width="1.1" points="107.8,685.0 108.4,694.4"/>
<polyline stroke="#2a2a2a" stroke-width="1.4" points="108.4,694.4 109.0,697.0"/>
<polyline stroke="#222" stroke-width="1.2" points="109.0,697.0 109.7,697.8 110.3,695.6 111.0,701.5 111.7,699.5 112.5,699.1 113.3,695.3 114.2,703.0 115.0,700.5 115.8,700.5 116.6,699.1 117.4,699.6 118.2,697.6 119.0,701.0 119.8,700.4 120.6,699.7 121.4,703.3 122.2,696.9 123.0,702.0 123.8,704.6 124.5,699.4 125.2,702.1 126.0,703.0 126.8,704.7 127.5,702.9 128.3,704.0"/>
<polyline stroke="#8a8a8a" stroke-width="1.1" points="128.3,704.0 129.0,700.5 131.0,687.0 133.0,666.7 134.1,646.3 136.3,607.8 138.4,575.7 140.8,552.0 142.7,531.2"/>
<polyline stroke="#666" stroke-width="1.1" points="142.7,531.2 142.9,530.2 142.8,529.9 143.1,528.7 143.0,527.9 143.3,527.4 143.2,526.5 143.5,525.6 143.4,524.9 143.7,524.0 143.6,523.3 143.9,522.3 143.8,521.3 144.1,521.3 144.0,519.9 144.3,519.3 144.2,518.7 144.5,517.8 144.4,516.4 144.7,516.3 144.6,514.7 144.9,514.7 144.8,513.7 145.1,512.7 145.0,511.6 145.3,511.3 145.2,510.2 145.5,509.4 145.4,508.7 145.7,507.6 145.6,506.9 145.9,506.4 145.9,505.5 146.2,504.8 146.1,503.8 146.5,502.9 146.4,502.2 146.8,501.6 146.7,500.2 147.1,499.6 147.0,498.4 147.4,498.5 147.3,496.9 147.7,496.8 147.6,495.8 148.0,495.4 147.9,494.4 148.3,493.4 148.2,491.9 148.6,492.2 148.5,490.7 148.9,490.6 148.8,489.0 149.1,488.4"/>
<polyline stroke="#444" stroke-width="1.15" points="149.1,488.4 149.4,488.4 149.7,486.9 150.0,486.7 150.3,485.3 150.6,485.0 150.9,483.6 151.2,483.4 151.6,482.4 151.9,481.6 152.2,481.2 152.5,480.2 152.8,479.4 153.1,478.7 153.4,477.7 153.8,477.1 153.6,476.8 154.2,475.5 154.0,473.5 154.6,473.7 154.4,472.4 155.0,473.6 154.8,471.1 155.4,471.3 155.2,468.8 155.8,469.4 155.6,468.1 156.2,468.6 156.0,465.8 156.6,466.4 156.6,464.9 156.9,464.7 157.1,462.3 157.4,462.9 157.7,461.1 157.9,459.9 158.2,460.0 158.5,460.0 158.8,457.8 159.0,457.2 159.3,457.3 159.6,456.6 159.8,455.4 160.1,455.7 160.4,452.9 160.6,453.7 160.9,452.0"/>
<polyline stroke="#222" stroke-width="1.2" points="160.9,452.0 161.3,451.5 161.7,450.0 162.0,450.1 162.4,448.5 162.8,449.4 163.2,447.0 163.6,447.0 163.9,445.2 164.3,445.8 164.7,443.3 165.1,443.7 165.4,442.3 165.8,442.1 166.2,441.3 166.7,441.1 167.3,439.1 167.8,441.4 168.4,439.2 168.9,438.9 169.4,436.9 170.0,439.0 170.5,435.9 171.1,436.0 171.6,434.9 172.0,434.9 172.5,433.2 172.9,434.3 173.4,431.6 173.8,433.4 174.2,429.5 174.7,431.0 175.1,428.0 175.6,430.4 176.0,427.1 176.5,427.6 176.9,426.4 177.5,427.1 178.1,425.7 178.6,424.3 179.2,423.2 179.8,422.8 180.4,422.4 181.0,422.7 181.6,420.8 182.1,421.1 182.7,419.6 183.3,419.9 183.8,419.2 184.3,418.5 184.8,419.9 185.3,414.9 185.8,417.1 186.3,415.0 186.8,416.4 187.3,413.2 187.8,414.5 188.3,411.8 188.8,413.9 189.3,411.5 189.8,411.4"/>
<polyline stroke="#8a8a8a" stroke-width="1.1" points="189.8,411.4 194.0,406.0 194.8,410.0"/>
<polyline stroke="#ababab" stroke-width="1.2" points="194.8,410.0 195.5,691.2"/>
<polyline stroke="#222" stroke-width="1.2" points="195.5,691.2 196.1,692.5 195.5,692.6 196.5,694.1 195.9,692.3 196.8,696.6 196.2,695.8 197.2,697.6 196.6,698.2 197.2,698.7 198.0,702.3 198.7,696.7 199.5,699.9 200.3,702.0 201.1,704.4 201.8,699.1 202.6,701.9 203.3,701.1 204.0,699.8 204.7,702.3 205.4,698.4 206.2,703.3 206.9,699.0 207.6,701.3 208.3,702.7 209.0,702.3 209.7,702.4 210.4,701.4 211.1,704.9 211.8,703.1 212.6,703.6 213.3,702.1 214.0,703.0 214.7,705.2 215.4,703.6 215.8,704.2 216.2,700.3 216.6,702.0 217.0,700.6 217.4,701.0 217.8,700.3 218.2,700.4 218.6,697.6"/>
<polyline stroke="#8a8a8a" stroke-width="1.1" points="218.6,697.6 220.8,682.6 222.9,657.0 225.1,624.9 227.2,592.8 229.3,560.0 232.5,529.0"/>
<polyline stroke="#666" stroke-width="1.1" points="232.5,529.0 232.7,528.2 232.6,527.2 232.9,526.4 232.9,525.7 233.1,525.1 233.1,524.6 233.4,523.5 233.3,521.9 233.6,521.7 233.5,520.8 233.8,520.0 233.7,518.9 234.0,518.5 234.0,517.6 234.2,517.0 234.2,515.7 234.5,515.6 234.4,514.1 234.7,513.6 234.6,512.3 234.9,512.0 234.8,511.2 235.1,510.1 235.1,509.4 235.3,509.1 235.3,507.7 235.6,507.3 235.5,505.9 235.7,505.5 236.0,505.3 235.9,504.0 236.3,503.3 236.2,501.5 236.6,501.3 236.5,500.7 236.9,500.5 236.8,498.9 237.2,498.7 237.2,497.0 237.5,496.7 237.5,495.5 237.9,495.2 237.8,493.4 238.2,493.8 238.1,492.7 238.5,491.5 238.4,490.2 238.8,490.3 238.7,488.8 239.0,488.4"/>
<polyline stroke="#444" stroke-width="1.15" points="239.0,488.4 239.2,486.9 239.5,486.8 239.7,486.3 240.0,484.6 240.2,485.4 240.5,483.2 240.7,482.6 241.0,481.6 241.2,480.8 241.5,479.6 241.7,479.8 242.0,478.0 242.2,477.7 242.4,477.0 242.7,476.6 242.9,476.0 243.2,474.5 243.4,474.2 243.7,472.7 243.9,473.1 244.2,470.8 244.4,471.6 244.7,468.6 244.9,468.9 245.2,466.7 245.4,467.0 245.7,466.4 246.0,465.3 246.3,465.9 246.6,463.1 246.9,463.5 247.1,461.7 247.4,461.5 247.7,459.6 248.0,460.4 248.3,457.7 248.6,458.4"/>
<polyline stroke="#222" stroke-width="1.2" points="248.6,458.4 248.9,458.1 249.2,456.3 249.6,455.9 249.9,454.0 250.2,453.8 250.5,454.3 250.9,452.2 251.2,452.4 251.5,451.0 252.2,451.4 252.9,449.1 253.6,449.0 254.3,448.8 254.6,449.3 254.9,448.0 255.2,446.3 255.4,445.0 255.7,446.2 256.0,443.9 256.3,445.3 256.6,441.6 256.9,442.7 257.2,439.6 257.5,442.3 257.7,438.4 258.0,437.5 258.3,437.3 258.6,437.1 258.9,436.7 259.2,436.5 259.5,435.0 259.8,433.5 260.1,434.1 260.3,433.1 260.6,432.1 260.9,431.1 261.2,431.0 261.5,428.6 261.8,428.5 262.5,428.5 263.2,427.0 263.9,426.7 264.6,426.8 265.3,425.3 266.0,425.3 266.5,426.0 267.0,424.2 267.5,423.7 268.0,421.5 268.5,422.2 268.9,421.1 269.4,421.6 269.9,419.6 270.4,420.4 270.9,417.6 271.4,417.8 271.9,417.8 272.5,414.7 273.0,416.7 273.5,414.5 274.1,414.4 274.6,413.5 275.4,414.9 276.2,413.5 277.0,411.9 277.8,413.5"/>
<polyline stroke="#8a8a8a" stroke-width="1.1" points="277.8,413.5 281.0,407.1 281.5,410.0"/>
<polyline stroke="#ababab" stroke-width="1.2" points="281.5,410.0 282.1,678.3"/>
<polyline stroke="#222" stroke-width="1.2" points="282.1,678.3 282.6,679.8 281.8,677.8 282.7,682.5 282.0,683.4 282.8,682.5 282.1,682.5 283.0,684.4 282.2,684.4 283.1,686.9 282.4,687.0 283.3,686.8 282.5,688.9 283.4,688.5 282.7,689.2 283.5,692.2 283.2,691.2 283.9,694.3 283.2,690.3 284.3,693.7 283.6,692.7 284.7,696.5 284.0,697.1 285.1,696.1 284.4,697.7 285.5,701.0 285.3,699.7 286.1,702.2 286.8,700.3 287.6,704.7 288.3,701.2 289.1,704.5 289.8,702.3 290.6,702.9 291.4,707.1 292.1,699.0 292.9,706.6 293.7,702.0 294.5,704.3 295.2,701.1 296.0,704.0 296.7,702.0 297.4,702.3 298.1,704.0 298.9,703.7 299.6,702.7 300.3,704.0 300.9,705.3 300.3,701.9 301.3,701.9 300.7,699.2 301.8,699.6 301.2,697.1 302.2,698.2 301.6,696.5 302.6,696.8 302.4,695.5"/>
<polyline stroke="#8a8a8a" stroke-width="1.1" points="302.4,695.5 304.5,674.1 306.7,642.0 308.8,612.0 311.0,582.1 313.3,553.0 315.2,529.0"/>
<polyline stroke="#666" stroke-width="1.1" points="315.2,529.0 315.4,528.0 315.3,527.2 315.6,526.6 315.6,525.7 315.9,525.6 315.8,524.2 316.1,523.5 316.1,522.1 316.4,521.7 316.3,520.5 316.6,520.6 316.5,519.2 316.8,518.9 316.8,517.6 317.1,517.3 317.0,516.5 317.3,515.5 317.2,514.5 317.5,513.9 317.5,513.2 317.8,512.3 317.7,511.2 318.0,510.6 318.0,509.5 318.3,509.4 318.2,508.8 318.4,507.6 318.7,506.7 318.6,506.1 319.0,505.5 319.0,503.9 319.4,503.8 319.3,502.6 319.7,502.1 319.7,501.7 320.1,500.2 320.0,499.7 320.4,499.3 320.4,497.8 320.8,497.7 320.7,496.7 321.1,496.1 321.1,495.0 321.5,494.7 321.4,492.7 321.7,492.7"/>
<polyline stroke="#444" stroke-width="1.15" points="321.7,492.7 322.1,492.8 321.9,491.8 322.5,491.0 322.3,489.6 322.9,488.4 322.7,487.5 323.3,487.0 323.1,485.7 323.7,486.1 323.5,484.0 324.1,484.1 323.9,482.0 324.5,482.4 324.3,481.2 324.9,480.6 324.9,479.8 325.3,479.0 325.0,478.9 325.6,477.2 325.4,475.8 326.0,475.8 325.7,475.4 326.3,475.8 326.0,473.4 326.6,472.7 326.4,471.4 327.0,472.1 326.7,469.6 327.3,470.7 327.0,469.2 327.6,468.4 327.4,467.2 328.0,467.2 327.7,466.2 328.1,464.9 328.3,463.8 328.6,463.6 328.8,462.6 329.1,460.7 329.3,461.2 329.6,459.4 329.8,458.9 330.1,457.0 330.3,457.3 330.6,457.1 330.8,457.4 331.1,455.0 331.3,454.2"/>
<polyline stroke="#222" stroke-width="1.2" points="331.3,454.2 331.6,454.6 331.8,451.8 332.1,452.2 332.4,450.7 332.6,449.9 332.9,448.2 333.2,449.1 333.4,447.1 333.7,446.7 334.0,445.9 334.2,445.6 334.5,444.5 335.0,445.1 335.6,442.7 336.1,442.9 336.6,441.5 337.1,441.7 337.7,439.7 338.2,440.2 338.7,439.4 339.3,439.7 339.8,438.1 340.2,438.8 340.7,434.8 341.1,436.1 341.5,434.3 342.0,435.0 342.4,432.8 342.8,433.0 343.2,432.2 343.7,432.0 344.1,430.6 344.6,429.6 345.1,429.8 345.6,429.8 346.1,427.0 346.6,428.4 347.0,425.5 347.5,427.2 348.0,424.6 348.5,424.4 349.0,423.1 349.5,423.2 349.8,422.4 350.1,421.4 350.5,421.6 350.8,419.7 351.1,419.6 351.4,415.5 351.8,418.5 352.1,415.3 352.4,417.2 352.7,416.1 353.1,415.7 353.4,413.5 353.7,413.5 354.4,413.7 355.1,412.6 355.9,413.1 356.6,411.9 357.3,412.5 358.0,412.5"/>
<polyline stroke="#8a8a8a" stroke-width="1.1" points="358.0,412.5 361.2,406.0 362.9,404.0"/>
<polyline stroke="#ababab" stroke-width="1.2" points="362.9,404.0 363.4,600.0 363.8,678.3"/>
<polyline stroke="#222" stroke-width="1.2" points="363.8,678.3 364.3,681.0 363.6,679.2 364.4,682.4 363.7,680.6 364.6,683.1 363.9,682.4 364.8,685.2 364.0,685.0 364.9,686.6 364.2,685.1 365.1,687.2 364.4,689.1 365.3,689.3 364.5,688.8 365.4,692.7 364.7,691.8 365.6,693.4 364.9,692.0 365.7,696.9 365.0,694.4 365.5,695.5 365.9,697.9 366.3,695.8 366.7,696.7 367.1,695.7 367.5,700.7 367.9,699.6 368.3,701.3 368.7,701.5 369.5,701.2 370.2,699.7 371.0,702.7 371.8,700.3 372.6,704.7 373.3,703.8 374.1,703.5 374.8,707.4 375.5,703.7 376.2,703.6 376.9,701.8 377.7,700.4 378.4,702.1 379.1,704.1 379.8,703.8 380.5,703.5 381.2,704.0 381.9,702.6 382.6,702.9 383.4,701.8 384.1,703.0 384.8,701.0"/>
<polyline stroke="#8a8a8a" stroke-width="1.1" points="384.8,701.0 386.9,689.0 389.0,663.4 391.2,631.3 393.3,599.2 395.5,571.4 397.0,553.0 398.7,526.9"/>
<polyline stroke="#666" stroke-width="1.1" points="398.7,526.9 399.0,526.0 398.9,525.1 399.3,524.4 399.3,524.0 399.6,523.4 399.6,522.2 400.0,521.3 400.0,520.5 400.3,519.9 400.3,518.9 400.6,518.3 400.6,517.4 401.0,516.7 401.0,515.9 401.3,515.3 401.3,514.1 401.7,513.6 401.6,512.4 401.9,511.9 402.2,511.5 402.1,510.0 402.5,509.7 402.4,508.3 402.8,507.6 402.7,507.1 403.1,506.1 403.0,505.4 403.4,504.9 403.3,503.1 403.7,502.9 403.6,501.8 404.0,501.3 403.9,499.9 404.3,500.1 404.2,498.6 404.6,498.4 404.5,496.9 404.9,496.7 404.8,495.2 405.1,494.8"/>
<polyline stroke="#444" stroke-width="1.15" points="405.1,494.8 405.5,494.3 405.3,493.2 405.9,492.8 405.7,491.2 406.2,490.7 406.1,489.9 406.6,489.8 406.5,488.2 407.0,487.8 406.9,487.0 407.4,487.5 407.3,485.1 407.8,485.1 407.7,483.8 408.2,482.4 408.1,482.1 408.6,481.6 408.5,481.1 409.0,480.2 408.8,478.7 409.4,478.7 409.4,477.7 409.6,477.3 409.8,475.5 410.1,475.7 410.3,473.5 410.5,474.0 410.7,473.0 410.9,473.6 411.2,471.4 411.4,471.1 411.6,470.1 411.8,469.9 412.1,468.7 412.3,468.4 412.5,466.2 412.7,466.3 412.9,464.8 413.2,464.8 413.4,463.2 413.6,462.7"/>
<polyline stroke="#222" stroke-width="1.2" points="413.6,462.7 413.9,461.9 414.1,459.3 414.4,460.4 414.6,457.8 414.9,459.4 415.1,457.7 415.4,456.7 415.7,456.6 415.9,456.9 416.2,454.7 416.4,455.9 416.7,454.4 416.9,452.4 417.2,452.3 417.5,452.0 417.7,450.3 418.0,450.8 418.2,448.1 418.5,448.3 418.7,446.5 419.0,446.7 419.5,445.9 420.0,444.7 420.4,444.0 420.9,442.6 421.4,444.1 421.9,441.9 422.3,442.5 422.8,439.1 423.3,440.3 423.7,439.5 424.1,437.9 424.6,438.6 425.0,436.4 425.4,437.7 425.8,435.3 426.2,435.6 426.7,433.8 427.1,434.6 427.5,432.8 427.9,432.2 428.4,431.6 428.8,431.4 429.2,429.4 429.6,429.6 430.1,428.2 430.5,428.8 430.9,427.0 431.4,426.8 431.8,425.3 432.1,425.7 432.5,423.4 432.8,424.5 433.1,421.8 433.5,420.6 433.8,421.4 434.1,420.7 434.4,418.0 434.8,419.0 435.1,416.8 435.4,419.3 435.8,416.3 436.1,415.7 436.8,414.7 437.5,414.9 438.2,414.8 439.0,415.2 439.7,413.6 440.4,413.5 441.2,411.8 442.0,412.0 442.8,412.2 443.6,411.4 444.0,412.4 444.5,410.9 444.9,414.6 445.3,414.6"/>
</g>
<text class="tk" x="59.50" y="734.9" text-anchor="middle">0</text>
<text class="tk" x="160.30" y="734.9" text-anchor="middle">10</text>
<text class="tk" x="261.10" y="734.9" text-anchor="middle">20</text>
<text class="tk" x="361.90" y="734.9" text-anchor="middle">30</text>
<text class="tk" x="32.90" y="446.5">25</text>
<text class="tk" x="32.90" y="502.4">20</text>
<text class="tk" x="32.90" y="558.2">15</text>
<text class="tk" x="32.90" y="613.0">10</text>
<text class="tk" x="39.95" y="668.0">5</text>
<text class="xl" x="252.6" y="760.9" text-anchor="middle">Time (min)</text>
<text class="yl" transform="translate(24.2,554.0) rotate(-90)" text-anchor="middle">R/min{R}</text>
<text class="pl" x="461.6" y="424.1">(c)</text>
<path d="M637.30 714v-3.6M637.30 395.9v3.6M689.35 714v-3.6M689.35 395.9v3.6M741.40 714v-3.6M741.40 395.9v3.6M793.45 714v-3.6M793.45 395.9v3.6M845.50 714v-3.6M845.50 395.9v3.6M897.55 714v-3.6M897.55 395.9v3.6M949.60 714v-3.6M949.60 395.9v3.6M585.0 686.20h3.6M971.4 686.20h-3.6M585.0 650.80h3.6M971.4 650.80h-3.6M585.0 615.40h3.6M971.4 615.40h-3.6M585.0 580.00h3.6M971.4 580.00h-3.6M585.0 544.60h3.6M971.4 544.60h-3.6M585.0 509.20h3.6M971.4 509.20h-3.6M585.0 473.80h3.6M971.4 473.80h-3.6M585.0 438.40h3.6M971.4 438.40h-3.6M585.0 403.00h3.6M971.4 403.00h-3.6" stroke="#b3b3b3" stroke-width="1" fill="none"/>
<rect x="585.0" y="395.9" width="386.40" height="318.10" fill="none" stroke="#b3b3b3" stroke-width="1.3"/>
<g fill="none" stroke-linejoin="round" stroke-linecap="round">
<polyline stroke="#222" stroke-width="1.2" points="585.0,434.9 585.7,437.6 586.4,430.6 587.2,436.1 587.9,431.6 588.6,432.8 589.4,436.9 590.3,432.5 591.1,433.4 592.0,433.4 592.8,432.8 593.3,433.7 593.9,429.8 594.4,432.6 595.0,428.5 595.5,427.9 596.0,430.6 596.6,428.5 597.1,427.4 597.8,426.9 598.5,425.9 599.2,424.6 600.0,422.5 600.7,425.0 601.4,424.2 602.1,424.3 602.8,423.2 603.5,426.3 604.2,422.2 605.0,425.2 605.7,423.4 606.4,422.9 607.1,422.7 607.8,423.2 608.6,422.5 609.3,423.1 610.1,423.8 610.9,421.1 611.7,420.7 612.4,420.6 613.2,421.0 613.8,421.5 614.5,422.3 615.1,423.7 615.8,421.6 616.4,424.2 616.9,425.6 617.5,422.8 618.0,422.1 618.5,422.0 619.1,421.1 619.6,419.9 620.4,420.5 621.1,419.5 621.9,420.3 622.6,419.0 623.4,421.4 624.1,422.0 624.9,421.0 625.6,424.1 626.3,420.1 627.0,424.6 627.8,420.8 628.5,423.3 629.2,422.1"/>
<polyline stroke="#8a8a8a" stroke-width="1.1" points="629.2,422.1 632.4,423.2 633.5,415.7 633.9,420.0"/>
<polyline stroke="#ababab" stroke-width="1.2" points="633.9,420.0 634.5,529.0"/>
<polyline stroke="#8a8a8a" stroke-width="1.1" points="634.5,529.0 635.2,555.0 635.2,571.8"/>
<polyline stroke="#2a2a2a" stroke-width="2" points="635.2,571.8 635.6,593.7"/>
<polyline stroke="#8a8a8a" stroke-width="1.1" points="635.6,593.7 636.2,604.0"/>
<polyline stroke="#333" stroke-width="0.9" points="636.2,604.0 636.8,611.2 636.0,604.1 637.0,619.1 636.3,605.5 637.3,605.8 636.5,611.4 637.6,610.7 636.8,606.4 637.8,601.6 637.5,612.0 637.8,619.9 638.1,613.5 638.4,619.8 638.7,615.0 639.0,614.0 639.3,625.4 639.6,612.4 639.9,623.6 640.2,610.9 640.5,618.0 641.1,619.9 640.3,620.9 641.3,624.0 640.6,614.4 641.6,625.5 640.8,619.9 641.9,623.1 641.1,623.6 642.1,626.1 641.8,626.0 642.3,623.8 641.4,621.6 642.3,636.7 641.4,621.9 642.4,633.1 641.5,630.8 642.4,636.2 641.5,626.2 642.5,634.6 641.6,632.5 642.5,640.0 641.6,631.5 642.6,635.0 641.7,638.7 642.6,644.3 641.7,638.2 642.2,640.0 642.8,641.1 642.0,640.3 643.1,646.6 642.4,644.2 643.4,641.1 642.6,642.1 643.7,648.5 642.9,637.3 644.0,652.1 643.2,645.0 644.3,650.5 644.0,650.0 644.3,657.5 644.6,638.2 644.9,656.2 645.2,651.5 645.6,659.8 645.9,657.1 646.2,651.8 646.5,656.0 646.8,650.8 647.1,654.1 647.4,665.1 647.8,667.8 648.1,667.2 648.4,648.6 648.7,669.4 649.0,660.0 649.3,659.2 649.6,646.2 649.9,683.2 650.2,659.2 650.6,671.2 650.9,661.6 651.2,679.4 651.5,663.0 651.8,668.9 652.1,666.3 652.4,660.3 652.8,649.4 653.1,675.7 653.4,667.4 653.7,669.6 654.0,662.0 654.5,664.5 653.7,658.5 654.7,659.4 653.9,662.0 654.8,662.9 654.0,656.5 655.0,660.1 654.2,656.8 655.1,659.0 654.3,654.1 655.3,651.1 654.5,651.5 655.4,662.0 654.6,646.0 655.6,651.7 654.8,649.7 655.3,648.0"/>
<polyline stroke="#8a8a8a" stroke-width="1.1" points="655.3,648.0 655.9,635.6 657.4,614.2 658.7,588.5 659.6,567.1 660.2,550.0 661.3,522.6 662.4,497.0 664.5,475.6 666.6,462.7"/>
<polyline stroke="#666" stroke-width="1.1" points="666.6,462.7 666.9,462.4 666.8,461.0 667.2,459.9 667.2,459.4 667.6,458.4 667.5,457.3 667.9,457.3 667.8,455.8 668.2,455.7 668.2,455.2 668.6,454.1 668.5,452.8 668.8,452.0"/>
<polyline stroke="#444" stroke-width="1.15" points="668.8,452.0 669.0,451.1 669.3,449.7 669.5,449.3 669.8,448.1 670.0,447.7 670.3,446.4 670.5,446.5 670.8,444.6 671.0,444.2 671.3,442.8 671.5,443.5 671.8,441.8 672.0,441.3"/>
<polyline stroke="#222" stroke-width="1.2" points="672.0,441.3 672.3,442.2 672.6,440.2 673.0,439.4 673.3,438.3 673.6,436.8 673.9,438.4 674.2,437.9 674.6,434.5 674.9,434.2 675.2,433.9 675.8,434.7 676.4,429.2 677.0,431.9 677.7,431.6 678.3,431.8 678.9,428.7 679.5,429.6 680.2,431.8 680.9,427.3 681.6,430.9 682.3,428.0 683.0,429.4 683.7,429.6 684.1,430.4 684.6,425.9 685.0,430.8 685.4,424.9 685.9,429.4 686.3,422.7 686.7,426.1 687.1,421.1 687.6,421.9 688.0,422.1 688.8,422.9 689.5,421.5 690.3,420.3 691.1,421.5 691.9,420.4 692.6,419.5 693.4,419.9 694.1,421.5 694.8,420.2 695.5,418.9 696.2,421.9 696.9,422.5 697.6,421.0 698.2,420.7 698.8,417.5 699.4,417.8 700.0,415.9 700.6,419.7 701.2,416.1 701.8,416.3 702.4,414.7 703.0,415.7 703.8,418.3 704.5,413.4 705.3,414.4 706.0,414.8 706.8,414.9 707.5,412.1 708.3,412.5 709.1,412.0 710.0,408.4 710.8,410.2 711.6,410.3 712.2,411.2 712.9,410.4 713.5,413.6 714.2,412.7 714.8,413.5 715.5,414.4 716.2,412.2 716.9,412.0 717.6,408.3 718.3,411.9 719.0,411.4"/>
<polyline stroke="#8a8a8a" stroke-width="1.1" points="719.0,411.4 723.7,412.5 725.0,403.9 726.1,412.0"/>
<polyline stroke="#ababab" stroke-width="1.2" points="726.1,412.0 726.4,589.0"/>
<polyline stroke="#2a2a2a" stroke-width="1.8" points="726.4,589.0 728.8,632.0"/>
<polyline stroke="#8a8a8a" stroke-width="1.1" points="728.8,632.0 729.5,648.0"/>
<polyline stroke="#333" stroke-width="0.9" points="729.5,648.0 730.1,647.3 729.4,642.7 730.5,652.6 729.7,641.3 730.8,649.8 730.0,649.0 731.1,657.9 730.4,647.7 731.5,661.6 730.7,651.7 731.8,655.3 731.5,658.0 731.8,663.3 732.1,667.3 732.4,660.2 732.8,664.2 733.1,674.8 733.4,667.8 733.7,662.3 734.0,664.0 734.3,682.6 734.6,661.3 734.9,668.3 735.2,659.9 735.6,675.1 735.9,662.8 736.2,670.8 736.5,668.0 736.8,681.8 737.1,659.9 737.4,667.3 737.8,671.4 738.1,680.4 738.4,674.6 738.7,669.6 739.0,673.0 739.3,684.6 739.6,672.8 739.9,690.0 740.2,662.8 740.6,681.1 740.9,670.0 741.2,670.6 741.5,677.0 741.8,677.2 742.1,680.6 742.4,679.6 742.8,671.2 743.1,688.1 743.4,681.8 743.7,689.8 744.0,681.0 744.3,680.9 744.7,678.7 745.0,690.1 745.3,677.0 745.7,683.1 746.0,684.0 746.5,687.1 745.7,684.8 746.7,680.3 745.9,672.2 746.9,677.9 746.1,674.8 747.1,679.8 746.2,677.5 747.2,678.2 746.4,672.4 747.4,677.4 746.6,670.1 747.6,675.2 746.8,669.4 747.3,672.0"/>
<polyline stroke="#8a8a8a" stroke-width="1.1" points="747.3,672.0 748.3,650.0 749.0,624.9 750.7,592.8 752.2,560.7 753.3,522.6 755.4,492.7 757.5,473.4"/>
<polyline stroke="#666" stroke-width="1.1" points="757.5,473.4 757.8,473.6 757.6,471.8 758.0,470.9 757.9,469.7 758.3,469.5 758.2,467.9 758.6,467.8 758.4,466.6 758.8,466.7 758.7,465.1 759.1,464.6 759.0,463.2 759.4,462.8 759.2,462.0 759.6,461.5 759.5,460.7 759.9,459.8 759.8,459.1 760.2,458.5 760.0,457.2 760.4,456.2 760.3,455.2 760.7,455.4 760.7,454.2"/>
<polyline stroke="#444" stroke-width="1.15" points="760.7,454.2 761.1,454.5 761.4,452.6 761.8,452.8 762.2,450.8 762.5,450.8 762.9,449.3 763.3,450.0 763.6,448.4 764.0,447.8"/>
<polyline stroke="#222" stroke-width="1.2" points="764.0,447.8 764.3,447.4 764.6,445.3 764.8,446.6 765.1,444.3 765.4,443.7 765.7,444.1 766.0,443.2 766.2,440.9 766.5,442.8 766.8,440.3 767.1,439.7 767.4,438.2 767.6,437.2 767.9,435.5 768.2,436.0 768.7,433.2 769.3,435.4 769.8,432.3 770.4,433.3 770.9,432.4 771.4,429.7 772.0,431.9 772.5,430.6 772.9,431.1 773.3,428.9 773.7,431.5 774.1,427.0 774.5,428.7 774.9,424.1 775.3,426.9 775.7,424.2 776.4,425.5 777.1,423.1 777.9,425.6 778.6,424.1 779.3,425.3 779.8,425.8 780.4,423.6 780.9,423.5 781.5,420.7 782.0,423.8 782.5,418.1 783.1,420.6 783.6,419.9 784.4,422.5 785.3,414.5 786.1,418.6 787.0,418.2 787.8,417.8 788.5,416.1 789.2,419.7 790.0,414.2 790.7,417.4 791.4,419.1 792.1,415.7 792.7,417.2 793.3,413.3 793.9,415.3 794.5,411.2 795.1,414.7 795.7,409.7 796.3,412.0 796.9,411.3 797.5,410.3 798.3,409.7 799.0,408.9 799.8,411.4 800.5,407.6 801.3,412.8 802.0,409.9 802.8,410.3 803.5,409.0 804.2,409.0 805.0,409.7 805.7,407.8 806.4,410.5 807.1,409.3 807.8,409.6 808.5,410.4 809.2,410.3 810.0,411.1 810.7,411.9 811.4,411.4"/>
<polyline stroke="#8a8a8a" stroke-width="1.1" points="811.4,411.4 814.1,412.5 814.6,406.0 815.0,412.0"/>
<polyline stroke="#ababab" stroke-width="1.2" points="815.0,412.0 815.6,540.0 816.5,593.7"/>
<polyline stroke="#2a2a2a" stroke-width="1.8" points="816.5,593.7 817.6,610.6"/>
<polyline stroke="#8a8a8a" stroke-width="1.1" points="817.6,610.6 818.5,625.0 819.3,639.3"/>
<polyline stroke="#333" stroke-width="0.9" points="819.3,639.3 819.8,645.8 819.0,636.4 820.0,642.4 819.2,635.8 820.2,648.1 819.4,645.3 820.4,655.5 819.6,648.2 820.6,650.1 819.8,644.2 820.8,652.3 820.0,646.6 820.5,650.0 820.8,664.4 821.2,653.4 821.5,651.4 821.8,644.7 822.2,667.1 822.5,655.0 822.8,662.0 823.1,649.7 823.4,668.6 823.8,649.4 824.1,659.5 824.4,649.6 824.7,648.9 825.0,658.0 825.3,668.6 825.6,645.8 825.9,659.4 826.2,649.5 826.6,668.7 826.9,654.5 827.2,664.4 827.5,660.0 827.8,653.5 828.1,655.7 828.4,655.7 828.8,659.1 829.1,668.9 829.4,657.6 829.7,680.9 830.0,663.0 830.3,671.3 830.6,663.0 830.9,669.2 831.2,658.2 831.6,675.3 831.9,667.4 832.2,660.5 832.5,665.0 832.8,673.8 833.2,662.5 833.5,671.7 833.8,660.5 834.2,657.6 834.5,660.0 835.0,657.8 834.1,661.4 835.0,659.9 834.2,651.2 835.1,658.5 834.2,652.3 835.2,651.1 834.3,645.6 835.2,650.1 834.4,650.7 835.3,652.5 834.4,647.7 835.4,651.7 834.5,648.2 835.4,643.8 834.6,644.2 835.5,645.5 834.6,640.1 835.6,644.6 834.7,641.4 835.6,643.7 834.8,636.2 835.7,641.4 834.8,643.7 835.3,639.3"/>
<polyline stroke="#8a8a8a" stroke-width="1.1" points="835.3,639.3 836.3,620.0 837.0,614.2 838.5,582.1 839.8,550.0 840.2,526.9 841.3,505.5 843.0,484.1 845.6,460.6"/>
<polyline stroke="#666" stroke-width="1.1" points="845.6,460.6 845.9,459.7 845.8,458.3 846.2,458.5 846.2,457.4 846.6,457.0 846.5,455.3 846.9,455.6 846.8,453.8 847.2,453.4 847.2,452.3 847.6,452.1 847.5,451.1 847.9,450.7 847.8,449.3 848.2,449.2 848.2,447.8 848.6,447.6 848.5,445.8 848.8,445.6"/>
<polyline stroke="#444" stroke-width="1.15" points="848.8,445.6 849.2,444.4 849.0,444.1 849.6,442.8 849.4,441.9 850.0,441.9 849.8,440.2 850.4,440.1 850.2,439.6 850.8,437.5 850.6,437.7 851.2,438.2 851.0,435.7 851.6,435.5 851.4,434.4 852.0,434.8 852.0,432.8"/>
<polyline stroke="#222" stroke-width="1.2" points="852.0,432.8 852.5,431.6 853.0,430.8 853.4,431.1 853.9,429.9 854.4,430.0 854.9,428.5 855.3,428.1 855.8,426.5 856.3,426.4 856.6,425.6 857.0,423.1 857.3,424.9 857.6,422.3 858.0,422.0 858.3,423.1 858.6,421.9 858.9,417.7 859.3,422.1 859.6,417.0 859.9,419.8 860.3,416.5 860.6,416.7 861.4,417.5 862.3,415.2 863.1,415.6 864.0,414.2 864.8,414.6 865.5,417.7 866.2,409.6 867.0,414.0 867.7,412.2 868.4,411.4 869.1,411.4 869.8,409.9 870.5,412.3 871.2,410.2 872.0,411.2 872.7,410.4 873.4,408.2 874.1,408.7 874.8,406.9 875.5,408.4 876.3,406.8 877.0,407.0 877.7,405.0 878.4,405.7 879.1,403.6 879.9,406.6 880.6,403.7 881.3,402.7 882.0,402.8 882.7,403.0 883.4,402.7 884.1,403.4 884.8,402.1 885.5,403.3 886.2,403.9 886.9,404.1 887.6,402.9 888.4,405.1 889.1,401.6 889.8,405.9 890.5,401.8 891.2,402.4 891.9,404.8 892.6,403.5 893.4,400.8 894.1,401.1 894.8,400.7"/>
<polyline stroke="#8a8a8a" stroke-width="1.1" points="894.8,400.7 898.6,399.6 899.2,397.0 899.5,405.0 901.2,550.0"/>
<polyline stroke="#ababab" stroke-width="1.2" points="901.2,550.0 901.5,593.7"/>
<polyline stroke="#8a8a8a" stroke-width="1.1" points="901.5,593.7 901.8,602.0"/>
<polyline stroke="#2a2a2a" stroke-width="1.8" points="901.8,602.0 903.0,627.0"/>
<polyline stroke="#8a8a8a" stroke-width="1.1" points="903.0,627.0 903.6,635.0"/>
<polyline stroke="#333" stroke-width="0.9" points="903.6,635.0 903.9,623.6 904.1,631.9 904.4,642.1 904.7,645.2 904.9,634.9 905.2,646.6 905.5,642.8 905.7,641.5 906.0,642.0 906.3,630.8 906.6,640.1 906.9,646.3 907.2,645.1 907.6,650.6 907.9,635.0 908.2,657.5 908.5,648.0 908.8,657.8 909.1,648.8 909.4,661.2 909.8,653.4 910.1,655.5 910.4,638.1 910.7,647.5 911.0,653.0 911.3,667.1 911.6,654.3 911.9,659.7 912.2,647.6 912.6,660.2 912.9,651.7 913.2,658.7 913.5,657.0 913.8,657.2 914.1,667.9 914.4,664.2 914.8,649.9 915.1,654.6 915.4,649.9 915.7,669.0 916.0,660.0 916.3,670.1 916.6,655.0 916.9,666.3 917.2,655.4 917.6,659.5 917.9,667.3 918.2,670.5 918.5,664.0 918.8,684.3 919.1,655.4 919.4,668.1 919.8,666.4 920.1,667.9 920.4,652.4 920.7,664.0 921.0,666.0 921.5,668.4 920.7,663.1 921.7,666.0 920.8,664.2 921.8,668.8 921.0,659.8 922.0,663.3 921.1,655.8 922.1,663.8 921.3,659.0 922.3,660.2 921.4,655.5 922.4,657.0 921.6,646.2 922.6,652.6 921.8,653.6 922.7,657.0 921.9,655.4 922.9,653.8 922.5,650.0"/>
<polyline stroke="#8a8a8a" stroke-width="1.1" points="922.5,650.0 923.2,636.0 923.7,614.2 925.2,582.1 926.5,555.0 927.3,522.6 929.0,486.3 931.1,460.6"/>
<polyline stroke="#666" stroke-width="1.1" points="931.1,460.6 931.4,460.3 931.3,459.2 931.6,458.7 931.5,457.0 931.9,456.7 931.8,455.6 932.2,454.9 932.1,454.1 932.5,453.9 932.4,452.2 932.7,452.5 932.6,450.7 933.0,450.3 932.9,449.1 933.3,448.5 933.2,447.7 933.6,447.1 933.5,446.4 933.8,445.7 933.7,444.5 934.1,443.8 934.0,442.3 934.4,442.3 934.4,441.3"/>
<polyline stroke="#444" stroke-width="1.15" points="934.4,441.3 934.7,440.4 934.9,439.8 935.2,439.2 935.5,438.6 935.7,438.0 936.0,436.6 936.2,436.1 936.5,434.7 936.8,434.7 937.0,433.4 937.3,432.5 937.5,431.6 937.8,432.5 938.1,429.7 938.3,429.5 938.6,428.5"/>
<polyline stroke="#222" stroke-width="1.2" points="938.6,428.5 939.0,427.8 939.3,425.0 939.7,428.2 940.0,425.0 940.4,425.9 940.8,425.3 941.1,426.6 941.5,421.3 941.8,423.7 942.2,421.3 942.5,421.7 942.9,419.9 943.3,420.7 943.7,417.4 944.1,420.6 944.5,416.7 944.9,417.4 945.2,416.1 945.6,416.6 946.0,413.4 946.4,414.3 946.8,413.6 947.2,411.4 947.9,413.5 948.6,411.4 949.4,412.7 950.1,412.2 950.8,413.6 951.5,414.6 952.0,414.9 952.6,412.6 953.1,410.6 953.6,410.9 954.2,412.8 954.7,410.3 955.1,410.7 955.6,406.6 956.0,410.7 956.4,405.5 956.9,405.8 957.3,403.4 957.7,405.9 958.1,404.7 958.6,406.0 959.0,402.8 959.7,404.4 960.4,401.0 961.1,403.9 961.8,402.2 962.5,405.3 963.2,405.0 963.8,402.9 964.4,403.0 965.0,404.9 965.7,401.4 966.3,403.5 966.9,399.1 967.5,400.7 968.3,399.4 969.1,398.4 969.9,402.3 970.7,399.6"/>
<line stroke="#777" stroke-width="1" x1="618" y1="411.4" x2="618" y2="424"/>
<line stroke="#777" stroke-width="1" x1="725" y1="403.9" x2="725" y2="412"/>
</g>
<text class="tk" x="585.25" y="734.9" text-anchor="middle">0</text>
<text class="tk" x="689.35" y="734.9" text-anchor="middle">10</text>
<text class="tk" x="793.45" y="734.9" text-anchor="middle">20</text>
<text class="tk" x="897.55" y="734.9" text-anchor="middle">30</text>
<text class="tk" x="568.90" y="410.6">5</text>
<text class="tk" x="568.90" y="482.2">4</text>
<text class="tk" x="568.90" y="553.7">3</text>
<text class="tk" x="568.90" y="623.5">2</text>
<text class="tk" x="568.90" y="695.3">1</text>
<text class="xl" x="778.2" y="760.9" text-anchor="middle">Time (min)</text>
<text class="yl" transform="translate(549.7,554.0) rotate(-90)" text-anchor="middle">R/min{R}</text>
<text class="pl" x="987.4" y="424.1">(d)</text>
</svg></body></html>
